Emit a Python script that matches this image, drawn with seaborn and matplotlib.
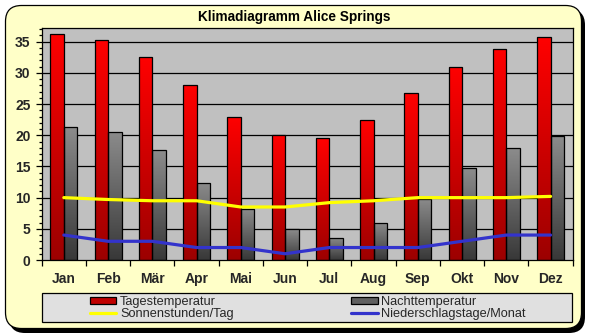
import numpy as np
import pandas as pd
import matplotlib
matplotlib.use("Agg")
import matplotlib.pyplot as plt
import seaborn as sns
from matplotlib.patches import FancyBboxPatch, Rectangle, Patch
from matplotlib.lines import Line2D
from matplotlib.colors import LinearSegmentedColormap

months = ["Jan", "Feb", "Mär", "Apr", "Mai", "Jun", "Jul", "Aug", "Sep", "Okt", "Nov", "Dez"]
tages = [36.3, 35.2, 32.5, 28.0, 23.0, 20.0, 19.5, 22.4, 26.7, 31.0, 33.8, 35.7]
nacht = [21.4, 20.6, 17.6, 12.4, 8.2, 4.9, 3.6, 6.0, 9.8, 14.7, 17.9, 19.9]
sonne = [10.0, 9.7, 9.5, 9.5, 8.5, 8.5, 9.2, 9.5, 10.0, 10.0, 10.0, 10.2]
regen = [4, 3, 3, 2, 2, 1, 2, 2, 2, 3, 4, 4]
title = "Klimadiagramm Alice Springs"
labels = ["Tagestemperatur", "Nachttemperatur", "Sonnenstunden/Tag", "Niederschlagstage/Monat"]

sns.set_theme(style="white")
plt.rcParams["font.family"] = ["Liberation Sans", "DejaVu Sans"]

W, H = 589, 336
fig = plt.figure(figsize=(W / 100, H / 100), dpi=100)
fig.patch.set_facecolor("white")

# background decoration axes in pixel coordinates
bg = fig.add_axes([0, 0, 1, 1], zorder=-5)
bg.set_xlim(0, W)
bg.set_ylim(H, 0)
bg.axis("off")
bg.add_patch(FancyBboxPatch((9, 9), 576, 324, boxstyle="round,pad=0,rounding_size=16",
                            facecolor="black", edgecolor="black", lw=0))
bg.add_patch(FancyBboxPatch((5.5, 5.5), 576, 323, boxstyle="round,pad=0,rounding_size=16",
                            facecolor="#FFFFC8", edgecolor="black", lw=0.9))
bg.add_patch(Rectangle((41.7, 292.5), 530.5, 29, facecolor="#E0E0E0", edgecolor="black", lw=0.9))
bg.text(294, 17, title, ha="center", va="center", fontsize=9.8, fontweight="bold", color="black")

x0, x1, yb, yt = 41.7, 572.7, 260, 28
ax = fig.add_axes([x0 / W, (H - yb) / H, (x1 - x0) / W, (yb - yt) / H])
ax.set_facecolor("#C0C0C0")

df = pd.DataFrame({
    "Monat": months * 2,
    "Wert": tages + nacht,
    "Serie": [labels[0]] * len(months) + [labels[1]] * len(months),
})
sns.barplot(data=df, x="Monat", y="Wert", hue="Serie", palette=["#FF0000", "#808080"],
            width=0.61, edgecolor="black", linewidth=0.9, ax=ax, legend=False, zorder=2)

red_cmap = LinearSegmentedColormap.from_list("r", ["#9C0000", "#FF0000"])
gray_cmap = LinearSegmentedColormap.from_list("g", ["#383838", "#8C8C8C"])
grad = np.linspace(0, 1, 256).reshape(-1, 1)
n = len(months)
for i, p in enumerate(ax.patches):
    cmap = red_cmap if i < n else gray_cmap
    bx, by = p.get_x(), p.get_y()
    bw, bh = p.get_width(), p.get_height()
    im = ax.imshow(grad, cmap=cmap, extent=[bx, bx + bw, by, by + bh], origin="lower",
                   aspect="auto", zorder=2, interpolation="bilinear")
    im.set_clip_path(p)
    p.set_facecolor("none")
    p.set_zorder(2.5)

xs = np.arange(n)
sns.lineplot(x=xs, y=sonne, color="#FFFF00", lw=2.3, ax=ax, zorder=4, sort=False)
sns.lineplot(x=xs, y=regen, color="#3333CC", lw=2.3, ax=ax, zorder=4, sort=False)

ax.set_xlim(-0.5, n - 0.5)
ax.set_ylim(0, 37.2)
ax.set_xlabel("")
ax.set_ylabel("")
ax.set_yticks(range(0, 36, 5))
ax.set_yticks(range(0, 38, 1), minor=True)
ax.set_xticks(np.arange(n))
ax.set_xticklabels(months)
ax.set_xticks(np.arange(-0.5, n, 1), minor=True)
ax.grid(False)
for v in range(5, 36, 5):
    ax.axhline(v, color="black", lw=0.9, zorder=1)
ax.tick_params(axis="y", which="major", direction="out", length=4, width=0.9, color="black",
               left=True, labelsize=10, pad=4)
ax.tick_params(axis="y", which="minor", direction="out", length=2.5, width=0.9, color="black", left=True)
ax.tick_params(axis="x", which="major", length=0, labelsize=10, pad=8.5)
ax.tick_params(axis="x", which="minor", direction="out", length=4.5, width=0.9, color="black", bottom=True)
for lab in ax.get_xticklabels() + ax.get_yticklabels():
    lab.set_fontweight("bold")
for s in ax.spines.values():
    s.set_color("black")
    s.set_linewidth(0.9)
    s.set_visible(True)

handles = [Patch(facecolor="#C00000", edgecolor="black", lw=0.9),
           Line2D([], [], color="#FFFF00", lw=2.3),
           Patch(facecolor="#606060", edgecolor="black", lw=0.9),
           Line2D([], [], color="#3333CC", lw=2.3)]
hl = [labels[0], labels[2], labels[1], labels[3]]
leg = fig.legend(handles, hl, ncol=2, loc="center", bbox_to_anchor=(308 / W, (H - 308) / H),
                 frameon=False, fontsize=9.2, handlelength=2.05, handleheight=0.55, handletextpad=0.3,
                 columnspacing=9.2, labelspacing=0.0, borderpad=0)

fig.savefig("out.png", dpi=100)
